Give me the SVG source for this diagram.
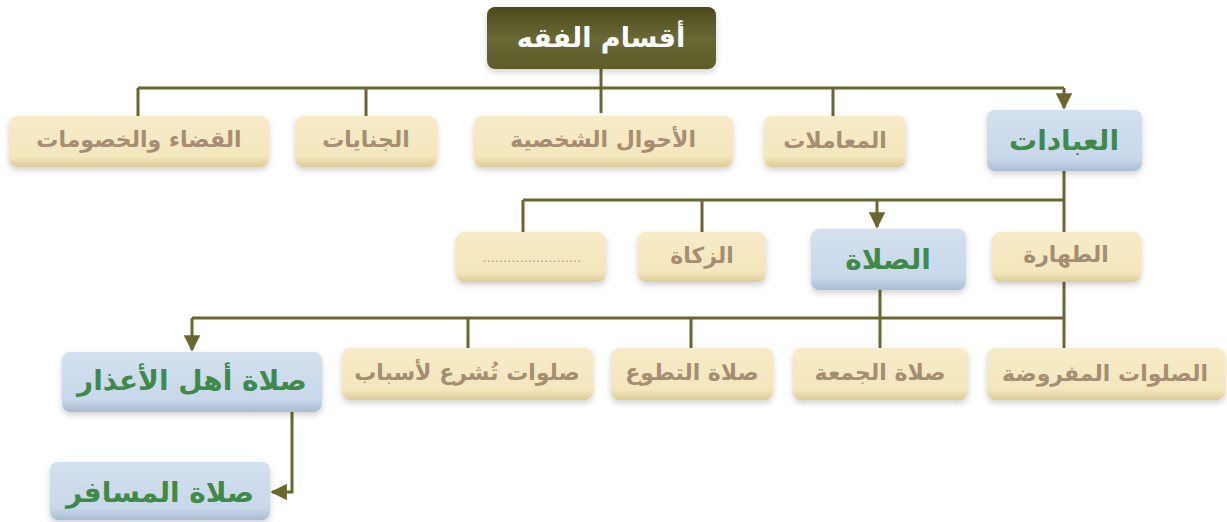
<svg xmlns="http://www.w3.org/2000/svg" width="1227" height="522" viewBox="0 0 1227 522">
<defs>
<linearGradient id="gBeige" x1="0" y1="0" x2="0" y2="1">
<stop offset="0" stop-color="#f7ecc9"/><stop offset="0.8" stop-color="#f4e6bd"/><stop offset="1" stop-color="#dccb98"/>
</linearGradient>
<linearGradient id="gBlue" x1="0" y1="0" x2="0" y2="1">
<stop offset="0" stop-color="#d3e0ef"/><stop offset="0.8" stop-color="#c8d8ea"/><stop offset="1" stop-color="#a9bcd2"/>
</linearGradient>
<linearGradient id="gTitle" x1="0" y1="0" x2="0" y2="1">
<stop offset="0" stop-color="#4c4a1c"/><stop offset="0.5" stop-color="#6a6834"/><stop offset="1" stop-color="#5e5c2a"/>
</linearGradient>
<filter id="sh" x="-10%" y="-20%" width="120%" height="150%">
<feDropShadow dx="0" dy="3" stdDeviation="3" flood-color="#000" flood-opacity="0.18"/>
</filter>
<marker id="arr" viewBox="0 0 10 10" refX="9" refY="5" markerWidth="5.5" markerHeight="5.5" orient="auto" markerUnits="strokeWidth">
<path d="M0,0 L10,5 L0,10 z" fill="#6b6630"/>
</marker>
<style>
.b{fill:url(#gBeige);filter:url(#sh)}
.u{fill:url(#gBlue);filter:url(#sh)}
.t{fill:url(#gTitle);filter:url(#sh)}
text{font-family:"DejaVu Sans","Noto Sans",sans-serif;font-weight:bold;text-anchor:middle;dominant-baseline:central}
.bt{fill:#a58e72;font-size:22px}
.ut{fill:#3f8a4a;font-size:28px}
.tt{fill:#ffffff;font-size:27px}
.c{stroke:#6b6630;stroke-width:3;fill:none}
</style>
</defs>
<g id="connectors">
<path class="c" d="M601,69 V113"/>
<path class="c" d="M138,88 H1064"/>
<path class="c" d="M138,88 V116 M366,88 V116 M833,88 V116"/>
<path class="c" d="M1064,88 V108" marker-end="url(#arr)"/>
<path class="c" d="M1064,171 V232"/>
<path class="c" d="M523,200 H1064"/>
<path class="c" d="M523,200 V232 M702,200 V232"/>
<path class="c" d="M877,200 V227" marker-end="url(#arr)"/>
<path class="c" d="M1064,282 V348"/>
<path class="c" d="M880,290 V348"/>
<path class="c" d="M192,318 H1064"/>
<path class="c" d="M691,318 V348 M468,318 V348"/>
<path class="c" d="M192,318 V350" marker-end="url(#arr)"/>
<path class="c" d="M292,412 V492 H272" marker-end="url(#arr)"/>
</g>
<g id="n-title"><rect class="t" x="487" y="7" width="229" height="62" rx="8"/><text class="tt" x="601" y="37">أقسام الفقه</text></g>
<g id="n-qada"><rect class="b" x="9" y="116" width="260" height="51" rx="8"/><text class="bt" x="139" y="139">القضاء والخصومات</text></g>
<g id="n-jinayat"><rect class="b" x="295" y="116" width="142" height="51" rx="8"/><text class="bt" x="366" y="139">الجنايات</text></g>
<g id="n-ahwal"><rect class="b" x="474" y="116" width="259" height="51" rx="8"/><text class="bt" x="603" y="139">الأحوال الشخصية</text></g>
<g id="n-muamalat"><rect class="b" x="764" y="116" width="142" height="51" rx="8"/><text class="bt" x="835" y="140">المعاملات</text></g>
<g id="n-ibadat"><rect class="u" x="987" y="110" width="155" height="61" rx="8"/><text class="ut" x="1064" y="140">العبادات</text></g>
<g id="n-dots"><rect class="b" x="456" y="232" width="150" height="50" rx="8"/><text x="532" y="258" style="fill:#b09a7c;font-size:12px;font-weight:normal;letter-spacing:0.3px">........................</text></g>
<g id="n-zakat"><rect class="b" x="638" y="232" width="128" height="50" rx="8"/><text class="bt" x="702" y="255">الزكاة</text></g>
<g id="n-salat"><rect class="u" x="811" y="229" width="155" height="61" rx="8"/><text class="ut" x="888" y="259">الصلاة</text></g>
<g id="n-tahara"><rect class="b" x="992" y="232" width="149" height="50" rx="8"/><text class="bt" x="1066" y="254">الطهارة</text></g>
<g id="n-mafruda"><rect class="b" x="987" y="348" width="238" height="52" rx="8"/><text class="bt" x="1105" y="373">الصلوات المفروضة</text></g>
<g id="n-jumua"><rect class="b" x="793" y="348" width="175" height="52" rx="8"/><text class="bt" x="880" y="372">صلاة الجمعة</text></g>
<g id="n-tatawwu"><rect class="b" x="611" y="348" width="162" height="52" rx="8"/><text class="bt" x="692" y="372">صلاة التطوع</text></g>
<g id="n-asbab"><rect class="b" x="342" y="348" width="251" height="52" rx="8"/><text class="bt" x="467" y="372">صلوات تُشرع لأسباب</text></g>
<g id="n-aadhar"><rect class="u" x="62" y="352" width="260" height="60" rx="8"/><text class="ut" x="192" y="380">صلاة أهل الأعذار</text></g>
<g id="n-musafir"><rect class="u" x="50" y="462" width="220" height="58" rx="8"/><text class="ut" x="160" y="492">صلاة المسافر</text></g>
</svg>
